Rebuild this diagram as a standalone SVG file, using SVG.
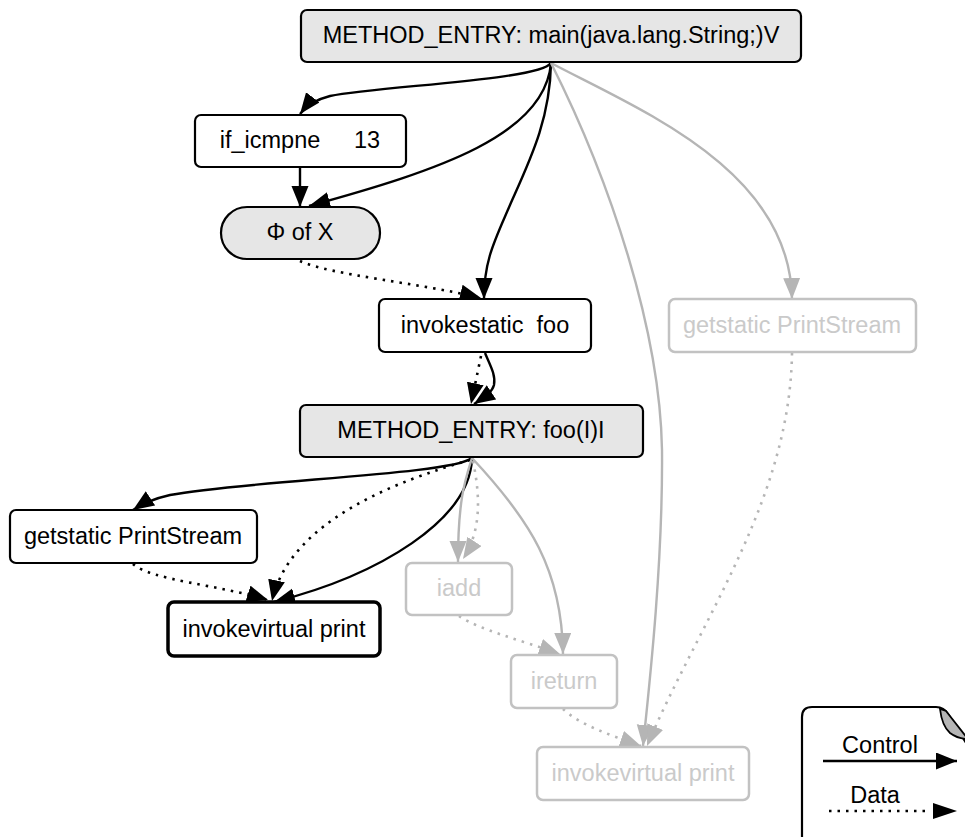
<svg xmlns="http://www.w3.org/2000/svg" width="965" height="837" viewBox="0 0 965 837">
<style>
.n{fill:#fff;stroke:#000;stroke-width:2.2}
.g{fill:#e6e6e6}
.gr{fill:#fff;stroke:#c2c2c2;stroke-width:2.5}
text{font-family:"Liberation Sans",Arial,sans-serif;font-size:23.5px;text-anchor:middle;fill:#000}
.gt{fill:#cacaca}
.c{fill:none;stroke:#000;stroke-width:2.4}
.d{fill:none;stroke:#000;stroke-width:2.6;stroke-dasharray:2.5 6}
.cg{fill:none;stroke:#b5b5b5;stroke-width:2.4}
.dg{fill:none;stroke:#b5b5b5;stroke-width:2.6;stroke-dasharray:2.5 6}
</style>
<defs>
<marker id="ab" markerUnits="userSpaceOnUse" markerWidth="22" markerHeight="18" refX="21" refY="8.5" orient="auto"><path d="M0,0 L21,8.5 L0,17 z" fill="#000"/></marker>
<marker id="ag" markerUnits="userSpaceOnUse" markerWidth="22" markerHeight="18" refX="21" refY="8.5" orient="auto"><path d="M0,0 L21,8.5 L0,17 z" fill="#b5b5b5"/></marker>
</defs>
<g id="connectors">
<path class="c" d="M551,63 C540,80 380,86 330,96 Q310,101 300,114" marker-end="url(#ab)"/>
<path class="c" d="M551,63 C545,135 440,170 309,206" marker-end="url(#ab)"/>
<path class="c" d="M300,167 L300,207" marker-end="url(#ab)"/>
<path class="c" d="M551,63 C550,120 530,160 510,205 C495,240 484,260 484,299" marker-end="url(#ab)"/>
<path class="cg" d="M551,63 C610,180 660,330 662,450 C663,560 650,680 643,746" marker-end="url(#ag)"/>
<path class="cg" d="M551,63 C640,110 790,170 792,299" marker-end="url(#ag)"/>
<path class="d" d="M300,261 C330,275 420,283 481,298" marker-end="url(#ab)"/>
<path class="c" d="M485,353 C490,365 496,375 494,385 C492,393 483,398 474,404" marker-end="url(#ab)"/>
<path class="d" d="M481,356 L471,404" marker-end="url(#ab)"/>
<path class="c" d="M472,458 C450,475 250,480 170,495 Q148,500 133,510" marker-end="url(#ab)"/>
<path class="c" d="M472,458 C470,520 380,575 274,602" marker-end="url(#ab)"/>
<path class="d" d="M470,460 C400,480 290,520 272,601" marker-end="url(#ab)"/>
<path class="d" d="M133,564 C150,580 220,585 268,600" marker-end="url(#ab)"/>
<path class="cg" d="M472,458 C465,480 458,500 458,562" marker-end="url(#ag)"/>
<path class="dg" d="M473,461 C480,495 482,530 463,559" marker-end="url(#ag)"/>
<path class="cg" d="M472,458 C530,520 562,570 563,654" marker-end="url(#ag)"/>
<path class="dg" d="M459,616 C480,630 520,640 560,654" marker-end="url(#ag)"/>
<path class="dg" d="M563,709 C580,725 610,735 641,746" marker-end="url(#ag)"/>
<path class="dg" d="M792,353 C790,500 700,620 647,746" marker-end="url(#ag)"/>
</g>
<g id="main"><rect class="n g" x="301" y="10" width="500" height="52" rx="6"/><text x="551" y="43">METHOD_ENTRY: main(java.lang.String;)V</text></g>
<g id="if_icmpne"><rect class="n" x="195" y="115" width="211" height="52" rx="6"/><text x="270" y="148">if_icmpne</text><text x="367" y="148">13</text></g>
<g id="phi"><rect class="n g" x="221" y="207" width="159" height="52" rx="26"/><text x="300" y="240">Φ of X</text></g>
<g id="invokestatic"><rect class="n" x="379" y="299" width="212" height="53" rx="6"/><text x="485" y="333" xml:space="preserve">invokestatic  foo</text></g>
<g id="getstatic_gray"><rect class="gr" x="669" y="299" width="247" height="53" rx="6"/><text class="gt" x="792" y="333">getstatic PrintStream</text></g>
<g id="foo_entry"><rect class="n g" x="300" y="405" width="343" height="52" rx="6"/><text x="471" y="438">METHOD_ENTRY: foo(I)I</text></g>
<g id="getstatic"><rect class="n" x="10" y="510" width="247" height="53" rx="6"/><text x="133" y="544">getstatic PrintStream</text></g>
<g id="invokevirtual"><rect class="n" x="168" y="602" width="212" height="54" rx="6" style="stroke-width:3.5"/><text x="274" y="637">invokevirtual print</text></g>
<g id="iadd"><rect class="gr" x="406" y="563" width="106" height="52" rx="6"/><text class="gt" x="459" y="596">iadd</text></g>
<g id="ireturn"><rect class="gr" x="511" y="655" width="106" height="53" rx="6"/><text class="gt" x="564" y="689">ireturn</text></g>
<g id="invokevirtual_gray"><rect class="gr" x="537" y="747" width="212" height="53" rx="6"/><text class="gt" x="643" y="781">invokevirtual print</text></g>
<g id="legend">
<path d="M802,840 V717 Q802,707 812,707 H936 Q944,707 948,714 L968,746" fill="#fff" stroke="#000" stroke-width="2.2"/>
<path d="M940,709 Q942,726 950,733 Q958,739 968,739 L946,711 z" fill="#b5b5b5" stroke="#000" stroke-width="1.8"/>
<text x="880" y="753">Control</text>
<path class="c" d="M823,761 H957" marker-end="url(#ab)"/>
<text x="875" y="803">Data</text>
<path class="d" d="M829,811 H930"/>
<path d="M933,803 L957,811 L933,819 z" fill="#000"/>
</g>
</svg>
